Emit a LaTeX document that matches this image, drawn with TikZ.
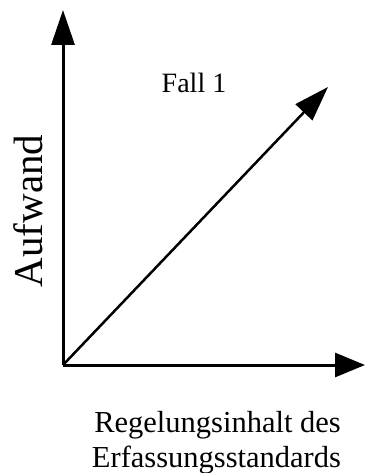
\documentclass[tikz,border=0pt]{standalone}
\usepackage{fontspec}
\setmainfont{Liberation Serif}
\usetikzlibrary{arrows.meta,positioning}

\begin{document}
\begin{tikzpicture}[x=1pt,y=-1pt,>={Triangle[length=35pt,width=23pt]},axis/.style={line width=3pt,->},lbl/.style={inner sep=0pt,anchor=base}]
\useasboundingbox (0,0) rectangle (365,473);
\coordinate (O) at (63,365);
\coordinate (ytip) at (63,10);
\coordinate (xtip) at (365,365);
\coordinate (dtip) at (328,87);
\draw[axis] (O)--(ytip);
\draw[axis,>={Triangle[length=30pt,width=24pt]}] (O)--(xtip);
\draw[axis,line width=2.5pt] (O)--(dtip);
\node[lbl,font=\fontsize{28}{28}\selectfont] (fall) at (194,93) {Fall 1};
\node[lbl,rotate=90,font=\fontsize{41}{41}\selectfont] (aufw) at (42,211) {Aufwand};
\node[lbl,font=\fontsize{30.5}{30.5}\selectfont] (regl) at (217.5,432) {Regelungsinhalt des};
\node[lbl,font=\fontsize{30.5}{30.5}\selectfont] (erfs) at (216.5,467) {Erfassungsstandards};
\end{tikzpicture}
\end{document}
